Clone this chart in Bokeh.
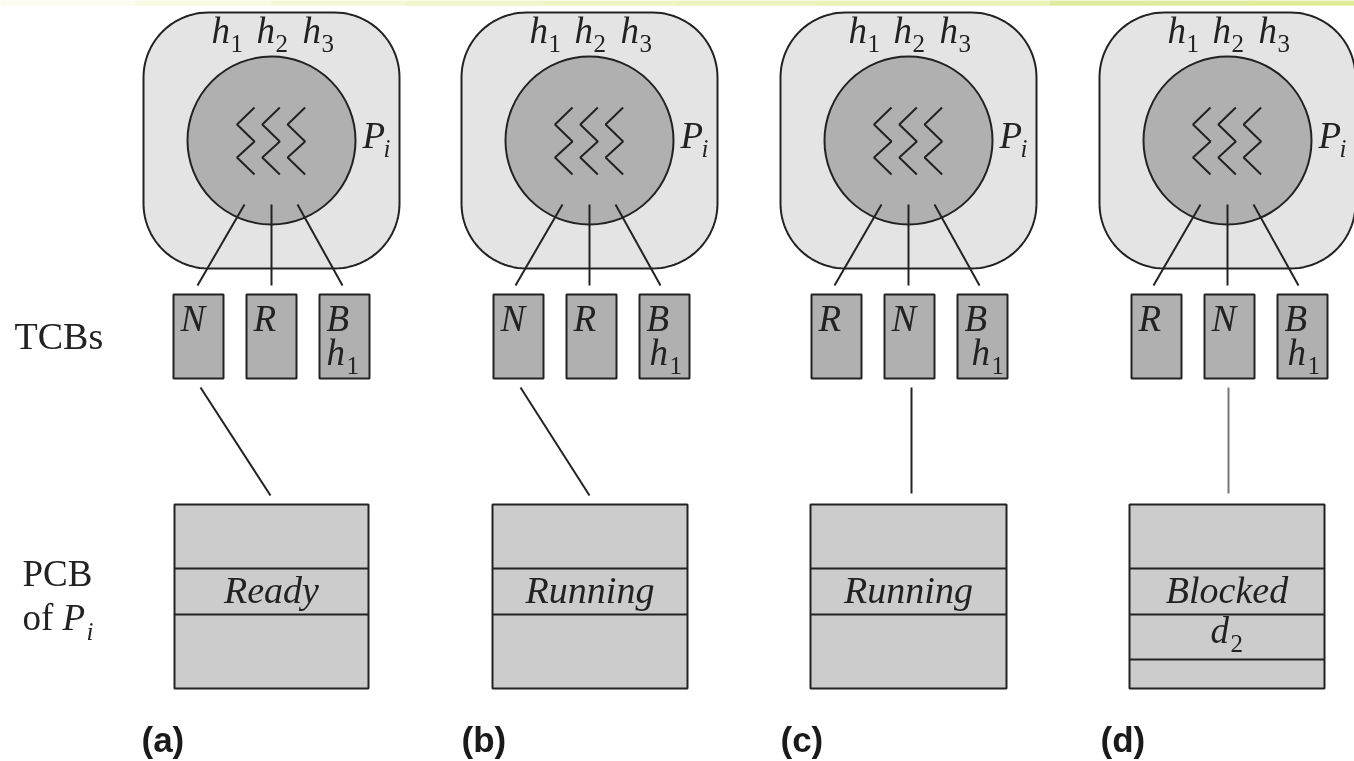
from bokeh.plotting import figure
from bokeh.models import Range1d
from bokeh.core.properties import value
from bokeh.embed import file_html
from bokeh.resources import INLINE
import numpy as np

W, H = 1354, 761
band_colors = ["#fbfcef", "#f7f9e0", "#f4f7d6", "#f1f5cc", "#eff4c4", "#edf3bd", "#ebf2b6", "#dfebA0", "#dfeb9c", "#e0ec98"]
band_edges = [0, 135, 270, 405, 540, 675, 820, 1050, 1150, 1250, 1354]

process_x = [143, 461, 780, 1099]
process_circle_x = [271, 589, 908, 1227]
tcb_x = [173, 493, 811, 1131]
tcb_state_labels = [["N", "R", "B"], ["N", "R", "B"], ["R", "N", "B"], ["R", "N", "B"]]
tcb_h1_shift = [0, 3, 7, 3]
pcb_x = [174, 492, 810, 1129]
pcb_widths = [194, 195, 196, 195]
pcb_states = ["Ready", "Running", "Running", "Blocked"]
panel_labels = ["(a)", "(b)", "(c)", "(d)"]
panel_label_x = [141, 461, 780, 1100]
link_top_x = [200, 520, 911, 1228]
link_bottom_x = [270, 589, 911, 1228]
link_bottom_y = [495, 495, 493, 493]
link_colors = ["#222222", "#222222", "#222222", "#777777"]

INK = "#222222"
SERIF = value("Liberation Serif")
LW = 2.0

p = figure(width=W, height=H, x_range=Range1d(0, W), y_range=Range1d(H, 0),
           output_backend="svg", toolbar_location=None, min_border=0,
           background_fill_color="white", border_fill_color="white")
p.axis.visible = False
p.grid.visible = False
p.outline_line_color = None
p.styles = {"position": "fixed", "left": "0px", "top": "0px"}


def txt(x, y, s, size=37, style="italic", font=SERIF, color="#222222", align="left"):
    # y is the wanted baseline; the renderer sets text about 0.36 em lower
    p.text([x], [y - 0.36 * size], text=[s], text_font=font, text_font_style=style,
           text_font_size=f"{size}px", text_color=color, text_align=align,
           text_baseline="alphabetic")


def sym(x, y, s, sub, sub_dx, size=37, sub_size=25, sub_dy=9):
    txt(x, y, s, size)
    txt(x + sub_dx, y + sub_dy, sub, sub_size, style="normal")


def rounded(x0, y0, w, h, r):
    t = np.linspace(0, np.pi / 2, 24)
    xs = np.concatenate([x0 + r - r * np.cos(t), x0 + w - r + r * np.sin(t),
                         x0 + w - r + r * np.cos(t), x0 + r - r * np.sin(t)])
    ys = np.concatenate([y0 + r - r * np.sin(t), y0 + r - r * np.cos(t),
                         y0 + h - r + r * np.sin(t), y0 + h - r + r * np.cos(t)])
    return xs, ys


p.quad(left=band_edges[:-1], right=band_edges[1:], top=0, bottom=5,
       fill_color=band_colors, line_color=band_colors, line_width=0.5)

for i in range(4):
    ox, cx, tx, px = process_x[i], process_circle_x[i], tcb_x[i], pcb_x[i]
    xs, ys = rounded(ox, 12, 256, 256, 65)
    p.patch(xs, ys, fill_color="#e4e4e4", line_color=INK, line_width=LW)
    p.circle([cx], [140], radius=84, fill_color="#b0b0b0", line_color=INK, line_width=LW)
    for k in range(3):
        zx = cx - 34.5 + 25.3 * k
        p.line([zx + 17.5, zx, zx + 17.5, zx, zx + 17.5], [107, 124, 141, 157, 174],
               line_color=INK, line_width=LW)
    for d0, d1 in ((-27, -74), (0, 0), (26, 71)):
        p.line([cx + d0, cx + d1], [204, 285], line_color=INK, line_width=LW)

    for k, name in enumerate(tcb_state_labels[i]):
        bx = tx + 73 * k
        p.quad(left=[bx], right=[bx + 50], top=[294], bottom=[378],
               fill_color="#b0b0b0", line_color=INK, line_width=LW)
        txt(bx + 7, 331, name, 37)
    bx = tx + 146
    sym(bx + 7 + tcb_h1_shift[i], 365, "h", "1", 20)

    sym(cx - 60, 43, "h", "1", 19)
    sym(cx - 15, 43, "h", "2", 19)
    sym(cx + 31, 43, "h", "3", 19)
    txt(cx + 91, 148, "P", 37)
    txt(cx + 112, 157, "i", 25)

    p.line([link_top_x[i], link_bottom_x[i]], [387, link_bottom_y[i]],
           line_color=link_colors[i], line_width=LW)

    pw = pcb_widths[i]
    p.quad(left=[px], right=[px + pw], top=[504], bottom=[688],
           fill_color="#cccccc", line_color=INK, line_width=LW)
    rows = [568, 614] + ([659] if pcb_states[i] == "Blocked" else [])
    for ry in rows:
        p.line([px, px + pw], [ry, ry], line_color=INK, line_width=LW)
    txt(px + pw / 2, 603, pcb_states[i], 38, align="center")
    txt(panel_label_x[i], 752, panel_labels[i], 35, style="bold",
        font=value("Liberation Sans"), color="#1a1a1a")

txt(1210, 643, "d", 37)
txt(1230, 652, "2", 25, style="normal")

txt(14, 349, "TCBs", 38, style="normal")
txt(22, 586, "PCB", 37, style="normal")
txt(22, 630, "of", 37, style="normal")
txt(62, 630, "P", 37)
txt(86, 640, "i", 25)

open("out.html", "w").write(file_html(p, INLINE))
